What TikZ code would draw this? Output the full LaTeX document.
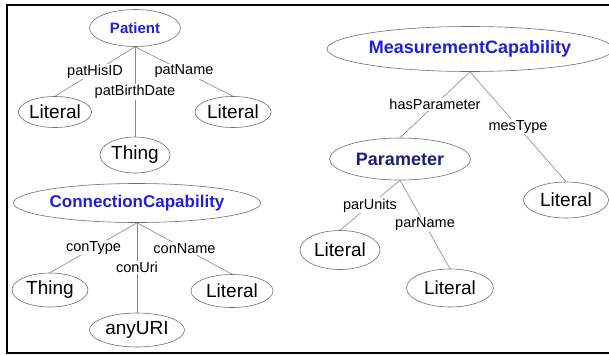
\documentclass[tikz,border=0pt]{standalone}
\usepackage{fontspec}
\setmainfont{Liberation Sans}
\usepackage{xcolor}
\usetikzlibrary{shapes.geometric}

\definecolor{clsblue}{RGB}{30,30,220}
\definecolor{parblue}{RGB}{25,30,125}
\definecolor{edgegray}{RGB}{135,135,135}
\definecolor{rimgray}{RGB}{110,110,110}

\begin{document}
\begin{tikzpicture}[x=1pt, y=-1pt,
    obj/.style={ellipse, draw=rimgray, line width=.6pt, inner sep=0pt, font=\fontsize{19}{21}\selectfont},
    cls/.style={obj, text=clsblue, font=\fontsize{18}{20}\selectfont\bfseries},
    rel/.style={draw=edgegray, line width=.6pt},
    lbl/.style={fill=white, inner sep=1pt, font=\fontsize{14.5}{16}\selectfont}]
      \useasboundingbox (0,0) rectangle (609,354);
      \draw[line width=2pt] (609,5) -- (6.5,5) -- (6.5,352.5) -- (609,352.5);
      % Patient
      \node [cls, minimum width=91pt, minimum height=37pt, font=\fontsize{15}{17}\selectfont\bfseries] (pat) at (135,28) {Patient};
      \node [obj, minimum width=72pt, minimum height=31pt] (patlit1) at (55,112) {Literal};
      \node [obj, minimum width=70pt, minimum height=36pt] (patthing) at (135,155) {Thing};
      \node [obj, minimum width=76pt, minimum height=31pt] (patlit2) at (233,112) {Literal};
      \draw[rel] (pat.south) -- node[lbl] {patHisID} (patlit1.north);
      \draw[rel] (pat.south) -- node[lbl] {patBirthDate} (patthing.north);
      \draw[rel] (pat.south) -- node[lbl] {patName} (patlit2.north);
      % ConnectionCapability
      \node [cls, minimum width=220pt, minimum height=39pt, font=\fontsize{17}{19}\selectfont\bfseries] (con) at (137,203) {ConnectionCapability};
      \node [obj, minimum width=76pt, minimum height=34pt] (conthing) at (50,290) {Thing};
      \node [obj, minimum width=95pt, minimum height=34pt] (conuri) at (137,330) {anyURI};
      \node [obj, minimum width=82pt, minimum height=33pt] (conlit) at (232,291) {Literal};
      \draw[rel] (con.south) -- node[lbl] {conType} (conthing.north);
      \draw[rel] (con.south) -- node[lbl] {conUri} (conuri.north);
      \draw[rel] (con.south) -- node[lbl] {conName} (conlit.north);
      % MeasurementCapability
      \node [cls, minimum width=256pt, minimum height=45pt] (mes) at (470,49) {MeasurementCapability};
      \node [cls, text=parblue, minimum width=141pt, minimum height=42pt] (par) at (400,159) {Parameter};
      \node [obj, minimum width=85pt, minimum height=36pt] (meslit) at (566,200) {Literal};
      \node [obj, minimum width=80pt, minimum height=39pt] (parlit1) at (340,250) {Literal};
      \node [obj, minimum width=87pt, minimum height=38pt] (parlit2) at (450,288) {Literal};
      \draw[rel] (mes.south) -- node[lbl] {hasParameter} (par.north);
      \draw[rel] (mes.south) -- node[lbl] {mesType} (meslit.north);
      \draw[rel] (par.south) -- node[lbl] {parUnits} (parlit1.north);
      \draw[rel] (par.south) -- node[lbl] {parName} (parlit2.north);
    \end{tikzpicture}
\end{document}
